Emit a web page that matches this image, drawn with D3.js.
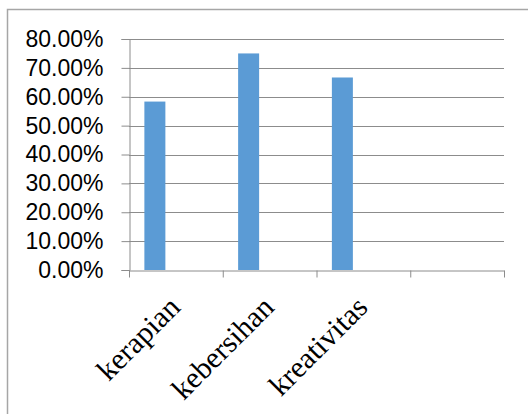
<!DOCTYPE html>
<html>
<head>
<meta charset="utf-8">
<script src="https://cdn.jsdelivr.net/npm/d3@7"></script>
<style>
  body { margin: 0; background: #fff; }
  svg { display: block; }
  .ylab { font-family: "Liberation Sans", Arial, sans-serif; font-size: 23px; fill: #000; }
  .xlab { font-family: "Liberation Serif", "Times New Roman", serif; font-size: 30px; fill: #000; }
</style>
</head>
<body>
<svg id="chart" width="528" height="414"></svg>
<script>
const categories = ['kerapian', 'kebersihan', 'kreativitas', ''];
const seriesNames = ['Series1', 'Series2', 'Series3'];
const series1 = [0.5833, 0.75, 0.6667, null];
const series2 = [null, null, null, null];
const series3 = [null, null, null, null];
const yTicks = [0, 0.1, 0.2, 0.3, 0.4, 0.5, 0.6, 0.7, 0.8];

const allSeries = [series1, series2, series3];

const svg = d3.select('#chart');

// outer chart border (runs off the right and bottom of the picture)
svg.append('rect')
  .attr('x', 7.5).attr('y', 9.5)
  .attr('width', 600).attr('height', 600)
  .attr('fill', 'none')
  .attr('stroke', '#a6a6a6')
  .attr('stroke-width', 1.5);

const plotLeft = 129, plotRight = 504, plotTop = 39, plotBottom = 270;

const x0 = d3.scaleBand()
  .domain(categories)
  .range([plotLeft, plotRight])
  .paddingInner(0.328)
  .paddingOuter(0.164);

const x1 = d3.scaleBand()
  .domain(seriesNames)
  .range([0, x0.bandwidth()]);

const xEdge = d3.scaleLinear().domain([0, categories.length]).range([plotLeft, plotRight]);

const y = d3.scaleLinear().domain([0, 0.8]).range([plotBottom, plotTop]);

// gridlines
svg.append('g')
  .selectAll('line').data(yTicks.filter(d => d > 0))
  .enter().append('line')
  .attr('x1', plotLeft).attr('x2', plotRight)
  .attr('y1', d => Math.round(y(d)) + 0.5)
  .attr('y2', d => Math.round(y(d)) + 0.5)
  .attr('stroke', '#8c8c8c')
  .attr('stroke-width', 1);

// bars
const bars = [];
allSeries.forEach((vals, si) => {
  vals.forEach((v, ci) => {
    if (v != null) bars.push({ cat: categories[ci], s: seriesNames[si], v: v });
  });
});

svg.append('g')
  .selectAll('rect').data(bars)
  .enter().append('rect')
  .attr('x', d => x0(d.cat) + x1(d.s))
  .attr('y', d => y(d.v))
  .attr('width', x1.bandwidth())
  .attr('height', d => y(0) - y(d.v))
  .attr('fill', '#5b9bd5');

// y axis
const yAxis = d3.axisLeft(y)
  .tickValues(yTicks)
  .tickSize(8)
  .tickPadding(18)
  .tickFormat(d3.format('.2%'));

const yAxisG = svg.append('g')
  .attr('transform', `translate(${plotLeft + 0.5},0)`)
  .call(yAxis);
yAxisG.select('.domain').attr('stroke', '#8c8c8c');
yAxisG.selectAll('.tick line').attr('stroke', '#8c8c8c');
yAxisG.selectAll('.tick text').attr('class', 'ylab');
yAxisG.attr('font-size', null).attr('font-family', null);

// x axis
const xAxis = d3.axisBottom(xEdge)
  .tickValues(d3.range(categories.length + 1))
  .tickSize(7)
  .tickSizeOuter(0)
  .tickFormat('');

const xAxisG = svg.append('g')
  .attr('transform', `translate(0,${plotBottom + 0.5})`)
  .call(xAxis);
xAxisG.select('.domain').attr('stroke', '#8c8c8c');
xAxisG.selectAll('.tick line').attr('stroke', '#8c8c8c');

svg.append('g')
  .selectAll('text').data(categories.filter(c => c))
  .enter().append('text')
  .attr('class', 'xlab')
  .attr('text-anchor', 'end')
  .attr('transform', d => `translate(${x0(d) + x0.bandwidth() / 2 + 6},309) rotate(-45)`)
  .text(d => d);
</script>
</body>
</html>
